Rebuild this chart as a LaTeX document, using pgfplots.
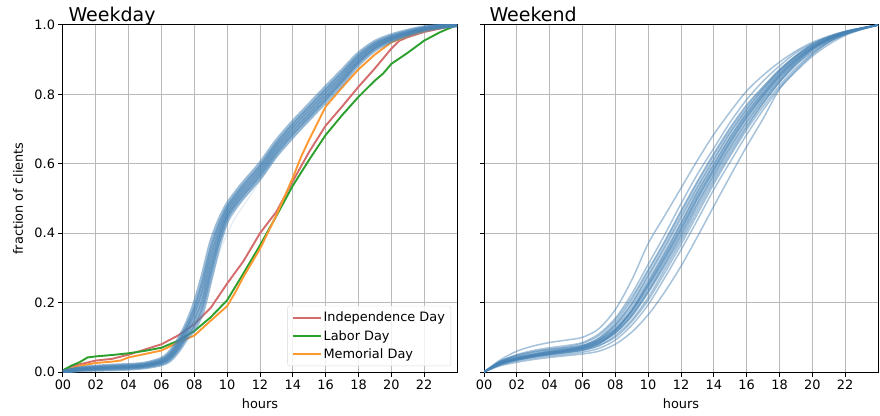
\documentclass[border=0pt]{standalone}
\usepackage{fontspec}
\setmainfont{DejaVu Sans}
\usepackage{pgfplots}
\pgfplotsset{compat=1.18}
\definecolor{sblue}{RGB}{70,130,180}
\definecolor{cred}{RGB}{212,108,108}
\definecolor{cgreen}{RGB}{44,160,44}
\definecolor{corange}{RGB}{255,152,48}
\newcommand{\tfont}{\fontsize{12.9}{15}\selectfont}
\begin{document}
\begin{tikzpicture}
\useasboundingbox (-63pt,-43pt) rectangle (817pt,372pt);
\pgfplotsset{
  base/.style={scale only axis, width=394pt, height=347pt,
    xmin=0, xmax=24, ymin=0, ymax=1,
    xtick={0,2,4,6,8,10,12,14,16,18,20,22},
    xticklabels={00,02,04,06,08,10,12,14,16,18,20,22},
    ytick={0,0.2,0.4,0.6,0.8,1},
    grid=major, major grid style={line width=1pt, color=black!27},
    axis line style={line width=1pt, black},
    tick style={line width=1pt, black}, major tick length=4.5pt, tick align=outside,
    xtick pos=bottom, ytick pos=left,
    tick label style={font=\tfont},
    label style={font=\tfont},
    xlabel={hours},
    xlabel style={at={(axis description cs:0.5,0)}, anchor=center, yshift=-32pt},
    title style={at={(axis description cs:0,1)}, anchor=base west, xshift=2pt, yshift=-3pt, font=\fontsize{19}{22}\selectfont},
    legend image code/.code={\draw[##1, line width=1.9pt] (0pt,0pt) -- (28pt,0pt);},
  },
  wk/.style={sblue, opacity=0.48, line width=1.5pt, smooth, forget plot},
  wd/.style={sblue, opacity=0.55, line width=4.2pt, smooth, forget plot},
  wdo/.style={sblue, opacity=0.15, line width=1.2pt, smooth, forget plot},
}
% ---------------- Weekday ----------------
\begin{axis}[base, at={(0pt,0pt)}, title={Weekday},
  ylabel={fraction of clients},
  yticklabels={0.0,0.2,0.4,0.6,0.8,1.0},
  ylabel style={at={(axis description cs:0,0.5)}, anchor=center, yshift=45pt},
  legend cell align=left,
  legend style={at={(0.985,0.017)}, anchor=south east, draw=black!15, rounded corners=2pt,
    fill=white, fill opacity=0.8, text opacity=1, draw opacity=1, font=\tfont, row sep=3pt,
    inner xsep=4pt, inner ysep=4pt},
]
\addplot[cred, line width=1.9pt] coordinates {(0,0.005) (0.5,0.015) (1,0.022) (2,0.033) (3,0.038) (4,0.05) (5,0.065) (6,0.08) (7,0.105) (8,0.138) (9,0.185) (10,0.255) (11,0.32) (12,0.40) (13,0.462) (14,0.55) (15,0.635) (16,0.71) (17,0.765) (18,0.822) (19,0.875) (20,0.932) (20.5,0.955) (21,0.965) (22,0.98) (23,0.99) (24,1)};
\addlegendentry{Independence Day}
\addplot[cgreen, line width=1.9pt] coordinates {(0,0.005) (0.5,0.018) (1,0.028) (1.5,0.042) (2,0.045) (3,0.049) (4,0.054) (5,0.061) (6,0.07) (7,0.09) (8,0.118) (9,0.158) (10,0.207) (11,0.285) (12,0.365) (13,0.45) (14,0.537) (15,0.612) (16,0.683) (17,0.74) (18,0.793) (19,0.84) (19.5,0.86) (20,0.888) (21,0.92) (22,0.955) (23,0.98) (24,1)};
\addlegendentry{Labor Day}
\addplot[corange, line width=1.9pt] coordinates {(0,0.0) (1,0.018) (2,0.026) (3,0.03) (3.5,0.033) (4,0.042) (5,0.052) (6,0.062) (7,0.085) (8,0.105) (9,0.148) (10,0.19) (10.5,0.23) (11,0.275) (12,0.355) (13,0.452) (14,0.56) (14.5,0.62) (15,0.67) (16,0.765) (17,0.82) (18,0.872) (19,0.915) (20,0.95) (21,0.968) (22,0.983) (23,0.992) (24,1)};
\addlegendentry{Memorial Day}
% weekday bundle
\addplot[wdo] coordinates {(0,0) (1,0.006) (2,0.008) (3,0.01) (4,0.012) (5,0.016) (6,0.025) (6.5,0.038) (7,0.062) (7.5,0.095) (8,0.13) (8.5,0.18) (9,0.26) (9.5,0.34) (10,0.40) (10.5,0.445) (11,0.48) (12,0.55) (13,0.625) (14,0.685) (15,0.738) (16,0.788) (17,0.84) (18,0.893) (19,0.933) (20,0.957) (21,0.973) (22,0.987) (23,0.995) (24,1)};
\addplot[wdo] coordinates {(0,0) (1,0.007) (2,0.009) (3,0.011) (4,0.013) (5,0.017) (6,0.027) (6.5,0.04) (7,0.065) (7.5,0.1) (8,0.138) (8.5,0.2) (9,0.29) (9.5,0.37) (10,0.425) (10.5,0.465) (11,0.50) (12,0.555) (13,0.62) (14,0.672) (15,0.728) (16,0.782) (17,0.838) (18,0.892) (19,0.932) (20,0.956) (21,0.972) (22,0.986) (23,0.995) (24,1)};
\addplot[wd] coordinates {(0,0) (1,0.0105) (2,0.015) (3,0.018) (4,0.020) (5,0.024) (6,0.0375) (6.5,0.056) (7,0.09) (7.5,0.135) (8,0.195) (8.5,0.275) (9,0.37) (9.5,0.435) (10,0.482) (10.5,0.515) (11,0.545) (12,0.600) (13,0.665) (14,0.720) (15,0.770) (16,0.820) (17,0.868) (18,0.917) (19,0.951) (20,0.970) (21,0.983) (22,0.993) (23,0.998) (24,1)};
\addplot[wd] coordinates {(0,0) (1,0.009) (2,0.013) (3,0.0155) (4,0.0175) (5,0.0215) (6,0.034) (6.5,0.0505) (7,0.0825) (7.5,0.125) (8,0.1775) (8.5,0.25) (9,0.345) (9.5,0.4175) (10,0.471) (10.5,0.505) (11,0.535) (12,0.590) (13,0.655) (14,0.710) (15,0.760) (16,0.810) (17,0.859) (18,0.9095) (19,0.9455) (20,0.966) (21,0.980) (22,0.991) (23,0.997) (24,1)};
\addplot[wd] coordinates {(0,0) (1,0.008) (2,0.011) (3,0.013) (4,0.015) (5,0.019) (6,0.030) (6.5,0.045) (7,0.075) (7.5,0.115) (8,0.160) (8.5,0.225) (9,0.320) (9.5,0.400) (10,0.460) (10.5,0.495) (11,0.525) (12,0.580) (13,0.645) (14,0.700) (15,0.750) (16,0.800) (17,0.850) (18,0.902) (19,0.940) (20,0.962) (21,0.977) (22,0.989) (23,0.996) (24,1)};
\addplot[wd] coordinates {(0,0) (1,0.007) (2,0.009) (3,0.0105) (4,0.0125) (5,0.0165) (6,0.026) (6.5,0.0395) (7,0.0675) (7.5,0.105) (8,0.1425) (8.5,0.20) (9,0.295) (9.5,0.3825) (10,0.449) (10.5,0.485) (11,0.515) (12,0.570) (13,0.635) (14,0.690) (15,0.740) (16,0.790) (17,0.841) (18,0.8945) (19,0.9345) (20,0.958) (21,0.974) (22,0.987) (23,0.995) (24,1)};
\addplot[wd] coordinates {(0,0) (1,0.0055) (2,0.007) (3,0.008) (4,0.010) (5,0.014) (6,0.0225) (6.5,0.034) (7,0.06) (7.5,0.095) (8,0.125) (8.5,0.175) (9,0.27) (9.5,0.365) (10,0.438) (10.5,0.475) (11,0.505) (12,0.560) (13,0.625) (14,0.680) (15,0.730) (16,0.780) (17,0.832) (18,0.887) (19,0.929) (20,0.954) (21,0.971) (22,0.985) (23,0.994) (24,1)};
\end{axis}
% ---------------- Weekend ----------------
\begin{axis}[base, at={(421pt,0pt)}, title={Weekend}, yticklabels={}]
\addplot[wk] coordinates {(0,0) (1,.027) (2,.040) (3,.050) (4,.058) (5,.064) (6,.072) (7,.090) (8,.125) (9,.180) (10,.255) (11,.335) (12,.420) (13,.510) (14,.590) (15,.670) (16,.740) (17,.800) (18,.855) (19,.900) (20,.935) (21,.960) (22,.978) (23,.990) (24,1)};
\addplot[wk] coordinates {(0,0) (1,.032) (2,.048) (3,.058) (4,.066) (5,.072) (6,.082) (7,.105) (8,.150) (9,.215) (10,.295) (11,.377) (12,.465) (13,.550) (14,.630) (15,.705) (16,.770) (17,.822) (18,.872) (19,.912) (20,.945) (21,.966) (22,.981) (23,.991) (24,1)};
\addplot[wk] coordinates {(0,0) (1,.022) (2,.034) (3,.043) (4,.050) (5,.055) (6,.062) (7,.075) (8,.105) (9,.150) (10,.215) (11,.295) (12,.377) (13,.465) (14,.550) (15,.630) (16,.705) (17,.775) (18,.835) (19,.885) (20,.922) (21,.952) (22,.973) (23,.988) (24,1)};
\addplot[wk] coordinates {(0,0) (1,.030) (2,.044) (3,.054) (4,.062) (5,.068) (6,.076) (7,.097) (8,.137) (9,.196) (10,.275) (11,.356) (12,.442) (13,.530) (14,.610) (15,.688) (16,.755) (17,.813) (18,.866) (19,.908) (20,.940) (21,.963) (22,.980) (23,.991) (24,1)};
\addplot[wk] coordinates {(0,0) (1,.024) (2,.037) (3,.046) (4,.054) (5,.060) (6,.067) (7,.082) (8,.115) (9,.165) (10,.235) (11,.315) (12,.398) (13,.488) (14,.570) (15,.650) (16,.722) (17,.786) (18,.843) (19,.892) (20,.930) (21,.957) (22,.976) (23,.989) (24,1)};
\addplot[wk] coordinates {(0,0) (1,.020) (2,.032) (3,.040) (4,.046) (5,.051) (6,.057) (7,.068) (8,.092) (9,.135) (10,.194) (11,.271) (12,.352) (13,.438) (14,.526) (15,.606) (16,.684) (17,.755) (18,.818) (19,.870) (20,.915) (21,.950) (22,.973) (23,.988) (24,1)};
\addplot[wk] coordinates {(0,0) (1,.035) (2,.060) (3,.075) (4,.085) (5,.092) (6,.100) (7,.125) (8,.180) (9,.265) (10,.370) (11,.450) (12,.530) (13,.610) (14,.685) (15,.750) (16,.810) (17,.855) (18,.893) (19,.925) (20,.950) (21,.968) (22,.982) (23,.992) (24,1)};
\addplot[wk] coordinates {(0,0) (1,.030) (2,.050) (3,.062) (4,.070) (5,.076) (6,.085) (7,.110) (8,.155) (9,.225) (10,.310) (11,.395) (12,.485) (13,.570) (14,.645) (15,.720) (16,.785) (17,.838) (18,.882) (19,.920) (20,.946) (21,.966) (22,.981) (23,.991) (24,1)};
\addplot[wk] coordinates {(0,0) (1,.025) (2,.038) (3,.047) (4,.055) (5,.061) (6,.069) (7,.085) (8,.113) (9,.160) (10,.228) (11,.305) (12,.385) (13,.475) (14,.558) (15,.638) (16,.710) (17,.775) (18,.835) (19,.886) (20,.926) (21,.955) (22,.975) (23,.989) (24,1)};
\addplot[wk] coordinates {(0,0) (1,.030) (2,.047) (3,.058) (4,.065) (5,.070) (6,.077) (7,.092) (8,.123) (9,.175) (10,.248) (11,.327) (12,.410) (13,.500) (14,.582) (15,.662) (16,.733) (17,.795) (18,.851) (19,.897) (20,.933) (21,.959) (22,.977) (23,.990) (24,1)};
\addplot[wk] coordinates {(0,0) (1,.022) (2,.035) (3,.044) (4,.051) (5,.057) (6,.064) (7,.082) (8,.120) (9,.178) (10,.258) (11,.340) (12,.428) (13,.518) (14,.598) (15,.677) (16,.746) (17,.805) (18,.859) (19,.903) (20,.937) (21,.961) (22,.979) (23,.990) (24,1)};
\addplot[wk] coordinates {(0,0) (1,.023) (2,.035) (3,.044) (4,.050) (5,.056) (6,.063) (7,.077) (8,.100) (9,.145) (10,.207) (11,.285) (12,.367) (13,.455) (14,.542) (15,.623) (16,.698) (17,.765) (18,.825) (19,.876) (20,.918) (21,.951) (22,.973) (23,.988) (24,1)};
\addplot[wk] coordinates {(0,0) (1,.027) (2,.041) (3,.050) (4,.058) (5,.063) (6,.070) (7,.086) (8,.118) (9,.170) (10,.243) (11,.322) (12,.406) (13,.497) (14,.578) (15,.658) (16,.730) (17,.792) (18,.848) (19,.894) (20,.931) (21,.958) (22,.977) (23,.990) (24,1)};
\addplot[wk] coordinates {(0,0) (1,.024) (2,.036) (3,.045) (4,.053) (5,.060) (6,.070) (7,.092) (8,.135) (9,.198) (10,.280) (11,.362) (12,.450) (13,.535) (14,.615) (15,.692) (16,.758) (17,.815) (18,.866) (19,.909) (20,.941) (21,.964) (22,.980) (23,.991) (24,1)};
\addplot[wk] coordinates {(0,0) (1,.018) (2,.028) (3,.036) (4,.042) (5,.047) (6,.052) (7,.060) (8,.080) (9,.115) (10,.165) (11,.230) (12,.305) (13,.390) (14,.478) (15,.565) (16,.650) (17,.730) (18,.815) (19,.866) (20,.910) (21,.944) (22,.970) (23,.987) (24,1)};
\addplot[wk] coordinates {(0,0) (1,.026) (2,.039) (3,.048) (4,.056) (5,.062) (6,.070) (7,.087) (8,.121) (9,.176) (10,.250) (11,.330) (12,.415) (13,.505) (14,.586) (15,.666) (16,.737) (17,.798) (18,.853) (19,.899) (20,.934) (21,.960) (22,.978) (23,.990) (24,1)};
\addplot[wk] coordinates {(0,0) (1,.029) (2,.043) (3,.052) (4,.060) (5,.066) (6,.074) (7,.093) (8,.130) (9,.188) (10,.265) (11,.345) (12,.430) (13,.520) (14,.600) (15,.678) (16,.747) (17,.806) (18,.860) (19,.904) (20,.937) (21,.961) (22,.979) (23,.990) (24,1)};
\addplot[wk] coordinates {(0,0) (1,.025) (2,.037) (3,.046) (4,.053) (5,.059) (6,.066) (7,.081) (8,.112) (9,.162) (10,.232) (11,.310) (12,.393) (13,.483) (14,.566) (15,.646) (16,.718) (17,.782) (18,.840) (19,.890) (20,.929) (21,.956) (22,.976) (23,.989) (24,1)};
\addplot[wk] coordinates {(0,0) (1,.026) (2,.040) (3,.050) (4,.058) (5,.065) (6,.075) (7,.098) (8,.143) (9,.208) (10,.290) (11,.372) (12,.460) (13,.545) (14,.625) (15,.700) (16,.765) (17,.820) (18,.870) (19,.911) (20,.943) (21,.965) (22,.980) (23,.991) (24,1)};
\end{axis}
\end{tikzpicture}
\end{document}
